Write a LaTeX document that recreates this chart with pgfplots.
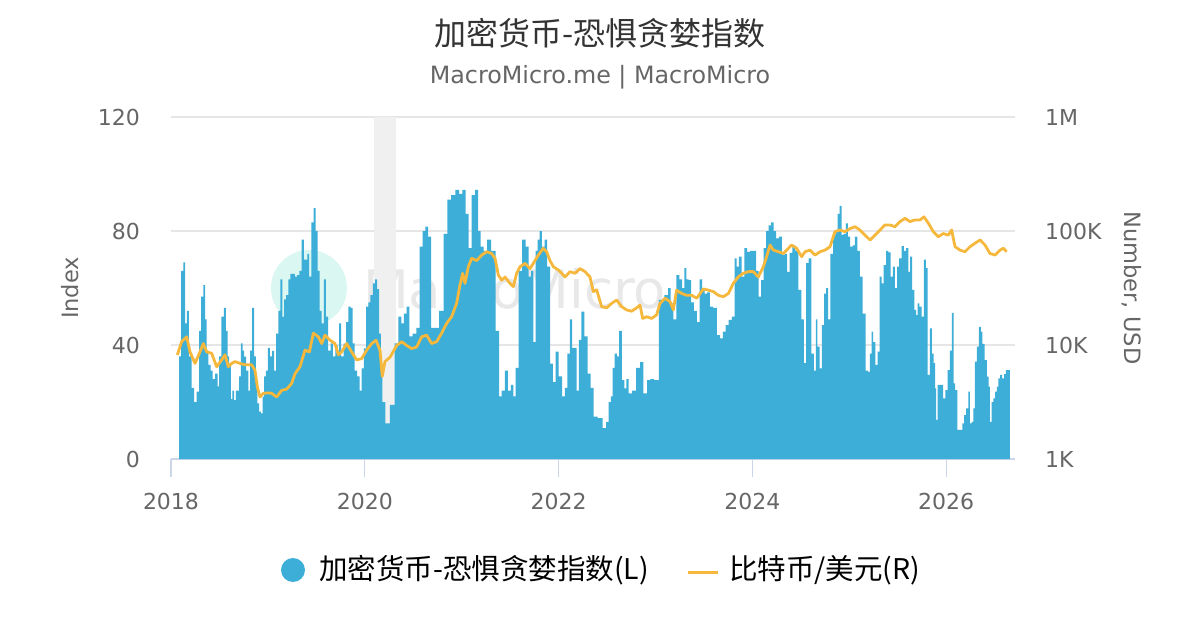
\documentclass[border=0pt]{standalone}
\usepackage{pgfplots}
\pgfplotsset{compat=1.18}
\usepackage{fontspec}
\setmainfont{DejaVu Sans}
\newfontfamily\cjk{Noto Sans CJK SC}
\definecolor{fgblue}{RGB}{60,174,216}
\definecolor{btcorange}{RGB}{246,184,60}
\definecolor{bandgrey}{RGB}{240,240,240}
\definecolor{gridgrey}{RGB}{230,230,230}
\definecolor{axisgrey}{RGB}{204,214,235}
\definecolor{labgrey}{RGB}{102,102,102}
\definecolor{titlegrey}{RGB}{51,51,51}
\definecolor{mint}{RGB}{218,247,241}
\definecolor{wmgrey}{RGB}{232,232,232}

\begin{document}
\begin{tikzpicture}[x=1pt,y=1pt]
\useasboundingbox (0,0) rectangle (1200,630);
% watermark
\fill[mint] (309,342) circle (38);
\node[anchor=west, inner sep=0pt, text=wmgrey, font=\fontsize{53}{60}\selectfont] at (363,341) {MacroMicro};

\begin{axis}[
  at={(171pt,171pt)}, anchor=south west,
  width=844pt, height=342pt, scale only axis,
  xmin=2018, xmax=2026.71,
  ymin=0, ymax=120,
  axis y line*=left, axis x line*=bottom,
  y axis line style={draw=none},
  x axis line style={draw=axisgrey, line width=1.2pt},
  xtick={2018,2020,2022,2024,2026},
  xticklabels={2018,2020,2022,2024,2026},
  xtick style={draw=axisgrey, line width=1.2pt},
  tick align=outside, major tick length=18pt,
  ytick={0,40,80,120},
  yticklabels={0,40,80,120},
  ytick style={draw=none},
  ymajorgrids, grid style={draw=gridgrey, line width=1.2pt},
  yticklabel style={anchor=east, inner sep=0pt, xshift=-13pt, text=labgrey, font=\fontsize{22}{26}\selectfont},
  xticklabel style={anchor=base, inner sep=0pt, yshift=-32pt, text=labgrey, font=\fontsize{22}{26}\selectfont},
]
\fill[bandgrey] (axis cs:2020.095,0) rectangle (axis cs:2020.32,120);
\addplot[fill=fgblue, draw=none, const plot mark mid] coordinates {
(2018.085,36) (2018.093,36) (2018.117,66) (2018.137,69) (2018.155,47.6) (2018.172,52) (2018.196,36)
(2018.230,25) (2018.248,20) (2018.282,23.6) (2018.299,45) (2018.323,57) (2018.344,61)
(2018.358,49) (2018.375,38) (2018.396,33) (2018.420,31) (2018.437,28) (2018.472,30)
(2018.488,25.5) (2018.506,36) (2018.534,50) (2018.557,53) (2018.575,45) (2018.592,36)
(2018.609,33.5) (2018.626,21) (2018.643,24) (2018.660,20.7) (2018.678,24) (2018.695,24)
(2018.712,29) (2018.730,40.6) (2018.747,38) (2018.764,35.9) (2018.788,31) (2018.808,24)
(2018.826,38) (2018.850,53) (2018.867,36) (2018.884,26.5) (2018.901,19.5) (2018.918,16.6)
(2018.936,16) (2018.953,21.9) (2018.970,29) (2018.988,31) (2019.011,39) (2019.032,36)
(2019.056,37.9) (2019.073,31) (2019.097,44) (2019.118,52) (2019.142,63) (2019.159,50)
(2019.176,56) (2019.200,57.5) (2019.221,63) (2019.245,65) (2019.269,65) (2019.290,64)
(2019.314,64.5) (2019.338,66) (2019.359,77) (2019.383,70) (2019.400,70) (2019.417,72)
(2019.434,64) (2019.462,83) (2019.483,88) (2019.504,80) (2019.520,66) (2019.545,52)
(2019.566,47.6) (2019.589,63) (2019.607,50) (2019.634,38) (2019.658,40.6) (2019.682,36)
(2019.710,40) (2019.727,38) (2019.744,47.6) (2019.768,36) (2019.796,40.5) (2019.820,48)
(2019.840,53.5) (2019.865,53) (2019.882,40.6) (2019.909,31) (2019.933,29) (2019.958,24)
(2019.978,31.8) (2020.002,38.8) (2020.026,53.5) (2020.046,55) (2020.071,57.5) (2020.095,61.6)
(2020.116,63) (2020.139,59.6) (2020.157,44) (2020.174,32) (2020.191,20)
(2020.232,12.5) (2020.288,19) (2020.329,40.6) (2020.363,50) (2020.391,47.6) (2020.415,51)
(2020.446,53.5) (2020.474,43) (2020.511,44) (2020.552,46) (2020.580,74.5) (2020.611,80)
(2020.639,81.5) (2020.666,78) (2020.701,46) (2020.742,46) (2020.794,52) (2020.835,79)
(2020.869,91) (2020.913,92.6) (2020.955,94.4) (2020.990,93) (2021.024,94.4) (2021.058,86)
(2021.086,74) (2021.120,92.6) (2021.155,94.4) (2021.182,80) (2021.209,74.5) (2021.244,73)
(2021.282,77) (2021.326,73) (2021.375,45) (2021.395,22) (2021.429,24) (2021.464,31)
(2021.491,24) (2021.522,26) (2021.543,22) (2021.571,32) (2021.605,66) (2021.643,77)
(2021.674,74.5) (2021.705,64) (2021.729,66) (2021.750,41) (2021.774,73) (2021.791,77)
(2021.815,80) (2021.842,74.5) (2021.867,77) (2021.898,67.5) (2021.929,33.5) (2021.953,27)
(2021.984,37.7) (2022.018,29) (2022.053,22) (2022.076,25) (2022.107,37) (2022.128,49)
(2022.152,39) (2022.176,39) (2022.197,24) (2022.221,41.8) (2022.249,51.7) (2022.283,43)
(2022.314,30) (2022.348,25) (2022.376,14.9) (2022.427,14.3) (2022.479,10.8) (2022.503,13)
(2022.530,20) (2022.551,22) (2022.565,32) (2022.592,37) (2022.613,36) (2022.637,45)
(2022.668,27.7) (2022.692,24.8) (2022.709,28) (2022.737,23) (2022.778,24) (2022.823,32)
(2022.857,34) (2022.895,23) (2022.930,27.7) (2022.964,28) (2023.005,27.7) (2023.064,55.8)
(2023.119,57.5) (2023.143,60) (2023.170,54.6) (2023.201,49) (2023.232,64.5) (2023.260,63)
(2023.287,60) (2023.308,67) (2023.328,63) (2023.356,62.8) (2023.380,55) (2023.411,52)
(2023.442,48) (2023.470,63) (2023.494,60) (2023.518,58) (2023.545,58.5) (2023.576,53.5)
(2023.614,53) (2023.652,43.5) (2023.683,42.3) (2023.707,44.7) (2023.738,47) (2023.772,48.8)
(2023.803,50) (2023.828,70.4) (2023.844,67.5) (2023.875,71) (2023.903,64) (2023.931,74)
(2023.958,72.7) (2023.993,73) (2024.027,73) (2024.051,66) (2024.078,57) (2024.102,62.8)
(2024.130,74) (2024.154,80) (2024.182,82) (2024.205,83) (2024.233,80) (2024.257,77.4)
(2024.288,78) (2024.319,71.6) (2024.344,72) (2024.371,65.7) (2024.398,72.3) (2024.429,75)
(2024.460,73) (2024.491,59.3) (2024.519,49) (2024.543,33.6) (2024.567,68.7) (2024.594,70.4)
(2024.622,37) (2024.646,31) (2024.663,49) (2024.680,39.4) (2024.705,31.8) (2024.729,47)
(2024.749,58) (2024.770,60) (2024.791,49) (2024.818,72) (2024.849,78.6) (2024.870,80)
(2024.887,86) (2024.911,88.8) (2024.928,78.6) (2024.952,79) (2024.976,82.7) (2024.997,78)
(2025.021,74.5) (2025.045,75) (2025.072,78) (2025.097,73) (2025.121,64) (2025.152,51)
(2025.183,31) (2025.204,30.6) (2025.221,37) (2025.238,44.7) (2025.255,41) (2025.283,33)
(2025.303,37.7) (2025.324,64) (2025.345,61.6) (2025.365,68) (2025.393,73) (2025.413,72.5)
(2025.438,64) (2025.461,67.5) (2025.482,60) (2025.503,67.5) (2025.527,70.4) (2025.551,74.7)
(2025.575,73) (2025.599,74) (2025.620,65.7) (2025.637,71) (2025.661,59.3) (2025.681,52.3)
(2025.696,50.5) (2025.713,54.6) (2025.733,53.5) (2025.758,50) (2025.781,70) (2025.799,67)
(2025.819,29.5) (2025.843,45.8) (2025.861,37) (2025.877,33.6) (2025.892,24.8) (2025.902,13.7)
(2025.923,26) (2025.954,26) (2025.981,21.3) (2026.002,24.2) (2026.026,31.2) (2026.050,38)
(2026.067,51.3) (2026.084,26.5) (2026.101,24.2) (2026.129,10.2) (2026.156,10.2) (2026.176,12.5)
(2026.194,15.4) (2026.218,17.8) (2026.238,23.6) (2026.252,12.5) (2026.273,13) (2026.286,17.8)
(2026.307,34.2) (2026.324,39.4) (2026.348,46.4) (2026.365,44.7) (2026.382,40.4) (2026.410,34.7)
(2026.431,28.9) (2026.445,25.4) (2026.458,13) (2026.479,20) (2026.496,21.3) (2026.514,23.6)
(2026.531,25.4) (2026.548,28.3) (2026.566,29.5) (2026.586,28.3) (2026.607,29.8) (2026.624,31.2)
(2026.645,31.2) (2026.658,31.2)
} \closedcycle;
\end{axis}

\begin{axis}[
  at={(171pt,171pt)}, anchor=south west,
  width=844pt, height=342pt, scale only axis,
  xmin=2018, xmax=2026.71,
  ymode=log, ymin=1000, ymax=1000000,
  axis x line=none, axis y line*=right,
  y axis line style={draw=none},
  ytick={1000,10000,100000,1000000},
  yticklabels={1K,10K,100K,1M},
  ytick style={draw=none}, minor ytick={},
  yticklabel style={anchor=west, inner sep=0pt, xshift=30pt, text=labgrey, font=\fontsize{22}{26}\selectfont},
]
\addplot[btcorange, line width=2.8pt, line join=round] coordinates {
(2018.065,8170) (2018.110,10700) (2018.162,11800) (2018.196,8700) (2018.248,6900) (2018.299,8700)
(2018.334,10300) (2018.368,8700) (2018.420,8450) (2018.471,6450) (2018.523,7400) (2018.557,8200)
(2018.592,6450) (2018.626,6900) (2018.660,7150) (2018.712,6900) (2018.764,6700) (2018.832,6700)
(2018.867,6000) (2018.891,4300) (2018.918,3500) (2018.953,3770) (2019.004,3800) (2019.039,3770)
(2019.090,3500) (2019.142,4000) (2019.194,4100) (2019.245,4600) (2019.280,5600) (2019.331,6450)
(2019.383,9000) (2019.428,8700) (2019.469,12700) (2019.520,11800) (2019.555,10300) (2019.589,12200)
(2019.641,11000) (2019.692,10300) (2019.727,8200) (2019.761,8700) (2019.813,10300) (2019.864,8700)
(2019.916,7400) (2019.968,7600) (2020.019,9000) (2020.071,10300) (2020.116,11000) (2020.157,9000)
(2020.180,5300) (2020.208,7150) (2020.260,7800) (2020.329,9900) (2020.381,10700) (2020.432,9900)
(2020.484,9300) (2020.535,9600) (2020.587,11800) (2020.638,12200) (2020.690,10300) (2020.742,10700)
(2020.793,12700) (2020.845,15500) (2020.896,17700) (2020.948,23200) (2020.982,33600) (2021.010,42500)
(2021.034,34700) (2021.068,48600) (2021.103,57600) (2021.155,55000) (2021.206,61500) (2021.258,65800)
(2021.309,63500) (2021.344,57600) (2021.378,41000) (2021.413,37000) (2021.447,39500) (2021.498,34700)
(2021.533,32500) (2021.567,42500) (2021.602,48600) (2021.653,52000) (2021.705,46800) (2021.739,52000)
(2021.791,61500) (2021.842,70500) (2021.877,65800) (2021.911,55000) (2021.946,48600) (2021.997,45500)
(2022.032,42500) (2022.066,39500) (2022.118,44000) (2022.169,42500) (2022.221,46800) (2022.272,44000)
(2022.324,39500) (2022.358,29400) (2022.393,30500) (2022.444,21700) (2022.496,21200) (2022.548,23200)
(2022.599,24800) (2022.651,21700) (2022.702,20300) (2022.754,19800) (2022.806,21200) (2022.840,22400)
(2022.868,17100) (2022.909,17700) (2022.961,17100) (2023.012,18400) (2023.046,23200) (2023.098,25700)
(2023.150,24000) (2023.184,20300) (2023.218,30300) (2023.270,28300) (2023.322,27300) (2023.373,27300)
(2023.425,25700) (2023.494,31000) (2023.545,30300) (2023.597,29400) (2023.648,27300) (2023.700,26500)
(2023.752,28300) (2023.803,34700) (2023.855,39700) (2023.906,42500) (2023.958,44000) (2024.010,44000)
(2024.061,39500) (2024.113,48600) (2024.147,59500) (2024.182,75400) (2024.216,68000) (2024.268,65800)
(2024.319,63500) (2024.354,68000) (2024.405,75400) (2024.457,70500) (2024.508,59500) (2024.543,65800)
(2024.594,68000) (2024.646,61500) (2024.698,65800) (2024.749,68000) (2024.801,72800) (2024.852,98600)
(2024.904,102000) (2024.956,98600) (2025.007,105000) (2025.059,109000) (2025.110,102000) (2025.162,92000)
(2025.214,83400) (2025.265,92000) (2025.317,102000) (2025.368,113000) (2025.420,113000) (2025.472,109000)
(2025.523,121000) (2025.575,129000) (2025.626,121000) (2025.678,125000) (2025.730,125000) (2025.771,133000)
(2025.816,117000) (2025.867,98600) (2025.919,89000) (2025.970,95000) (2026.022,92000) (2026.056,102000)
(2026.091,72800) (2026.142,68000) (2026.194,65800) (2026.246,72800) (2026.297,78000) (2026.349,83400)
(2026.400,75400) (2026.452,63500) (2026.504,61500) (2026.555,68000) (2026.590,70500) (2026.624,65800)
};
\end{axis}

% titles
\node[text=titlegrey, font=\cjk\fontsize{32}{36}\selectfont] at (600,597) {加密货币-恐惧贪婪指数};
\node[text=labgrey, font=\fontsize{23.8}{28}\selectfont] at (600,553) {MacroMicro.me | MacroMicro};
% axis titles
\node[rotate=90, text=labgrey, font=\fontsize{22.5}{26}\selectfont] at (70,342) {Index};
\node[rotate=-90, text=labgrey, font=\fontsize{22.5}{26}\selectfont] at (1132,342) {Number, USD};
% legend
\fill[fgblue] (293,60) circle (12);
\node[anchor=west, inner sep=0pt, font=\cjk\fontsize{28.5}{32}\selectfont] at (319,60) {加密货币-恐惧贪婪指数(L)};
\draw[btcorange, line width=3pt] (688,58) -- (718,58);
\node[anchor=west, inner sep=0pt, font=\cjk\fontsize{28.5}{32}\selectfont] at (729,60) {比特币/美元(R)};
\end{tikzpicture}
\end{document}
